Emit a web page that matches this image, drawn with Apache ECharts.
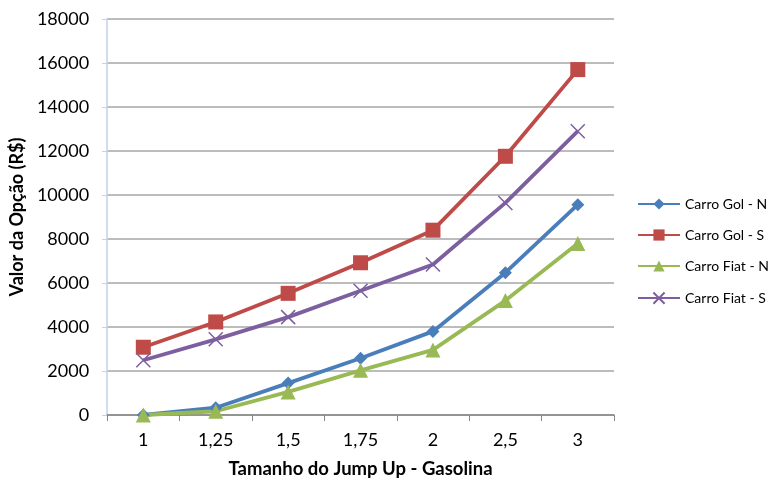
<!DOCTYPE html>
<html><head><meta charset="utf-8">
<script src="https://cdn.jsdelivr.net/npm/echarts@6/dist/echarts.min.js"></script>
<style>html,body{margin:0;padding:0;background:#fff}#c{width:771px;height:484px}</style>
</head><body><div id="c"></div>
<script>
const categories = ['1', '1,25', '1,5', '1,75', '2', '2,5', '3'];
const golN = [0, 330, 1450, 2580, 3800, 6470, 9560];
const golS = [3080, 4230, 5530, 6920, 8400, 11760, 15700];
const fiatN = [0, 170, 1050, 2030, 2960, 5200, 7800];
const fiatS = [2490, 3440, 4450, 5650, 6840, 9640, 12900];
const seriesNames = ['Carro Gol - N', 'Carro Gol - S', 'Carro Fiat - N', 'Carro Fiat - S'];
const yTicks = { min: 0, max: 18000, interval: 2000 };

const font = 'Lato, "Open Sans", sans-serif';
const colors = ['#4a7ebb', '#be4b48', '#98b954', '#7d5fa0'];
const xPath = 'path://M0,0L10,10M10,0L0,10';

function mk(name, data, color, symbol, size, extra) {
  return Object.assign({
    name: name, type: 'line', data: data, symbol: symbol, symbolSize: size,
    lineStyle: { color: color, width: 3.8 },
    itemStyle: { color: color },
    emphasis: { disabled: true }, animation: false
  }, extra || {});
}

const chart = echarts.init(document.getElementById('c'));
chart.setOption({
  animation: false,
  color: colors,
  grid: { left: 107, right: 157, top: 19, bottom: 67 },
  legend: {
    orient: 'vertical', left: 637, top: 197, itemGap: 17, padding: 0,
    itemWidth: 42, itemHeight: 14,
    textStyle: { fontFamily: font, fontSize: 14, color: '#000' },
    data: seriesNames
  },
  xAxis: {
    type: 'category', data: categories, boundaryGap: true,
    name: 'Tamanho do Jump Up - Gasolina', nameLocation: 'middle', nameGap: 45,
    nameTextStyle: { fontFamily: font, fontSize: 18.5, fontWeight: 'bold', color: '#000' },
    axisLine: { lineStyle: { color: '#868686', width: 1.5 } },
    axisTick: { show: true, length: 6, lineStyle: { color: '#868686' } },
    axisLabel: { fontFamily: font, fontSize: 18, color: '#000', margin: 16 }
  },
  yAxis: {
    type: 'value', min: yTicks.min, max: yTicks.max, interval: yTicks.interval,
    name: 'Valor da Opção (R$)', nameLocation: 'middle', nameGap: 81, nameRotate: 90,
    nameTextStyle: { fontFamily: font, fontSize: 18, fontWeight: 'bold', color: '#000' },
    axisLine: { show: true, lineStyle: { color: '#c3d1ea', width: 1.5 } },
    axisTick: { show: true, length: 5, lineStyle: { color: '#c3d1ea' } },
    axisLabel: { fontFamily: font, fontSize: 18, color: '#000', margin: 18,
      formatter: function (v) { return String(v); } },
    splitLine: { lineStyle: { color: '#a6a6a6', width: 1.5 } }
  },
  series: [
    mk(seriesNames[0], golN, colors[0], 'diamond', 13),
    mk(seriesNames[1], golS, colors[1], 'rect', 15),
    mk(seriesNames[2], fiatN, colors[2], 'triangle', 15),
    mk(seriesNames[3], fiatS, colors[3], xPath, 14, {
      itemStyle: { color: 'none', borderColor: colors[3], borderWidth: 1.5 }
    })
  ]
});
</script></body></html>
